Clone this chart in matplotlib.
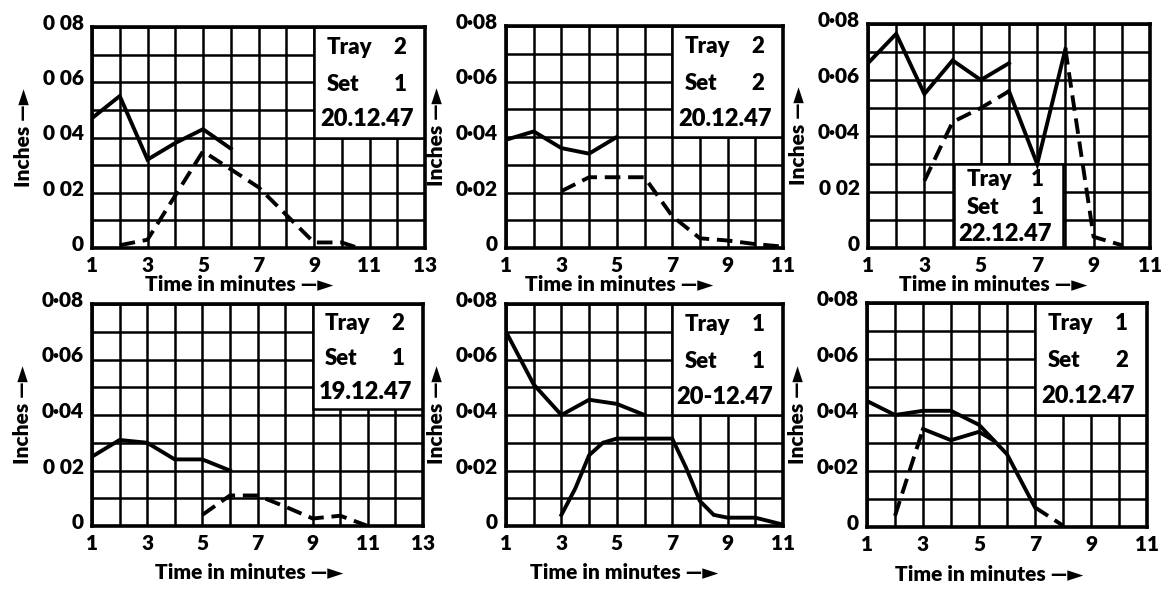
import matplotlib.pyplot as plt
import matplotlib.transforms as mtransforms
from matplotlib.patches import Rectangle

plt.rcParams['font.family'] = ['Lato', 'DejaVu Sans']
plt.rcParams['font.weight'] = 'heavy'
plt.rcParams['axes.labelweight'] = 'heavy'

# --- readings (x = time in minutes, y = inches) ---
# Tray 2, Set 1, 20.12.47
p1_a_x = [1, 2, 3, 4, 5, 6]
p1_a_y = [0.047, 0.055, 0.032, 0.038, 0.043, 0.036]
p1_b_x = [2, 3, 5, 7, 9, 10, 10.6]
p1_b_y = [0.001, 0.003, 0.035, 0.022, 0.002, 0.002, 0.0]

# Tray 2, Set 2, 20.12.47
p2_a_x = [1, 2, 3, 4, 5]
p2_a_y = [0.039, 0.042, 0.036, 0.034, 0.040]
p2_b_x = [3, 4, 6, 7, 8, 9, 10, 11]
p2_b_y = [0.0205, 0.0255, 0.0255, 0.0115, 0.0035, 0.0027, 0.0014, 0.0005]

# Tray 1, Set 1, 22.12.47
p3_a_x = [1, 2, 3, 4, 5, 6]
p3_a_y = [0.066, 0.0765, 0.055, 0.067, 0.060, 0.066]
p3_b_x = [3, 4, 5, 6, 7, 8, 9, 10]
p3_b_y = [0.024, 0.045, 0.050, 0.056, 0.030, 0.071, 0.004, 0.001]

# Tray 2, Set 1, 19.12.47
p4_a_x = [1, 2, 3, 4, 5, 6]
p4_a_y = [0.025, 0.031, 0.030, 0.024, 0.024, 0.020]
p4_b_x = [5, 6, 7, 8, 9, 10, 11]
p4_b_y = [0.004, 0.011, 0.011, 0.007, 0.0027, 0.0037, 0.0]

# Tray 1, Set 1, 20-12.47
p5_a_x = [1, 2, 3, 4, 5, 6]
p5_a_y = [0.070, 0.051, 0.040, 0.0455, 0.044, 0.040]
p5_b_x = [3, 3.5, 4, 4.5, 5, 6, 7, 7.5, 8, 8.5, 9, 10, 11]
p5_b_y = [0.004, 0.0135, 0.0255, 0.030, 0.0315, 0.0315, 0.0315, 0.021, 0.009,
          0.004, 0.003, 0.003, 0.0005]

# Tray 1, Set 2, 20.12.47
p6_a_x = [1, 2, 3, 4, 5, 6, 7, 8]
p6_a_y = [0.045, 0.040, 0.0415, 0.0415, 0.0365, 0.026, 0.007, 0.0005]
p6_b_x = [2, 3, 4, 5, 5.5]
p6_b_y = [0.004, 0.035, 0.031, 0.034, 0.031]

notes = [('2', '1', '20.12.47'), ('2', '2', '20.12.47'), ('1', '1', '22.12.47'),
         ('2', '1', '19.12.47'), ('1', '1', '20-12.47'), ('1', '2', '20.12.47')]
xmaxes = [13, 11, 11, 13, 11, 11]
ytick_text = [['0', '0 02', '0 04', '0 06', '0 08'],
              ['0', '0·02', '0·04', '0·06', '0·08'],
              ['0', '0 02', '0·04', '0·06', '0·08'],
              ['0', '0 02', '0·04', '0·06', '0·08'],
              ['0', '0·02', '0·04', '0·06', '0·08'],
              ['0', '0·02', '0·04', '0·06', '0·08']]

W, H = 1161, 589
# axes boxes in pixels: left, right, top, bottom
boxes_px = [(92, 425, 27, 248), (506, 783, 26, 248), (868, 1150, 24, 248),
            (92, 423, 304, 526), (506, 783, 304, 526), (867, 1147, 303, 527)]
# white note boxes in data coords: x0, x1, y0, y1
note_boxes = [(9, 13, 0.04, 0.08), (7, 11, 0.04, 0.08), (4.05, 7.9, 0.0, 0.03),
              (9, 13, 0.042, 0.08), (7, 11, 0.04, 0.08), (7, 11, 0.04, 0.08)]
xlabel_start = [0.16, 0.07, 0.11, 0.19, 0.087, 0.10]

fig = plt.figure(figsize=(W / 100, H / 100), dpi=100)
axes = []
for i, (l, r, t, b) in enumerate(boxes_px):
    ax = fig.add_axes([l / W, 1 - b / H, (r - l) / W, (b - t) / H])
    xmax = xmaxes[i]
    ax.set_xlim(1, xmax)
    ax.set_ylim(0, 0.08)
    ax.set_xticks(range(1, xmax + 1))
    ax.set_xticklabels([str(v) if v % 2 else '' for v in range(1, xmax + 1)])
    ax.set_yticks([k / 100 for k in range(9)])
    ax.set_yticklabels([ytick_text[i][k // 2] if k % 2 == 0 else '' for k in range(9)])
    ax.grid(True, color='black', lw=1.8)
    ax.set_axisbelow(True)
    ax.tick_params(length=0, labelsize=15, pad=6)
    for s in ax.spines.values():
        s.set_linewidth(2.6)
        s.set_zorder(4)
    up = mtransforms.ScaledTranslation(0, 5 / 100, fig.dpi_scale_trans)
    for lab in ax.get_yticklabels():
        lab.set_transform(lab.get_transform() + up)
    ax.set_ylabel('Inches —►', fontsize=15, labelpad=7)
    row_pad = -0.165 if i < 3 else -0.21
    ax.text(xlabel_start[i], row_pad, 'Time in minutes —►', transform=ax.transAxes,
            fontsize=15, ha='left', va='center')

    x0, x1, y0, y1 = note_boxes[i]
    ax.add_patch(Rectangle((x0, y0), x1 - x0, y1 - y0, facecolor='white',
                           edgecolor='black', lw=1.8, zorder=1))
    tray, st, date = notes[i]
    dy = (y1 - y0) / 3
    ax.text(x0 + 0.45, y1 - 0.55 * dy, 'Tray', fontsize=16, va='center', zorder=3)
    ax.text(x1 - 0.9, y1 - 0.55 * dy, tray, fontsize=16, va='center', ha='center', zorder=3)
    ax.text(x0 + 0.45, y1 - 1.55 * dy, 'Set', fontsize=16, va='center', zorder=3)
    ax.text(x1 - 0.9, y1 - 1.55 * dy, st, fontsize=16, va='center', ha='center', zorder=3)
    ax.text((x0 + x1) / 2 - 0.1, y1 - 2.5 * dy, date, fontsize=17, va='center',
            ha='center', zorder=3)
    axes.append(ax)

solid = dict(color='black', lw=2.8, zorder=2, solid_joinstyle='miter')
dashed = dict(color='black', lw=2.8, zorder=2, ls=(0, (4, 2)))

axes[0].plot(p1_a_x, p1_a_y, **solid)
axes[0].plot(p1_b_x, p1_b_y, **dashed)

axes[1].plot(p2_a_x, p2_a_y, **solid)
axes[1].plot(p2_b_x, p2_b_y, **dashed)

axes[2].plot(p3_a_x, p3_a_y, **solid)
axes[2].plot(p3_b_x[:4], p3_b_y[:4], **dashed)
axes[2].plot(p3_b_x[3:6], p3_b_y[3:6], **solid)
axes[2].plot(p3_b_x[5:], p3_b_y[5:], **dashed)

axes[3].plot(p4_a_x, p4_a_y, **solid)
axes[3].plot(p4_b_x, p4_b_y, **dashed)

axes[4].plot(p5_a_x, p5_a_y, **solid)
axes[4].plot(p5_b_x, p5_b_y, **solid)

axes[5].plot(p6_a_x[:7], p6_a_y[:7], **solid)
axes[5].plot(p6_a_x[6:], p6_a_y[6:], **dashed)
axes[5].plot(p6_b_x[:2], p6_b_y[:2], **dashed)
axes[5].plot(p6_b_x[1:], p6_b_y[1:], **solid)

fig.savefig('out.png', dpi=100)
